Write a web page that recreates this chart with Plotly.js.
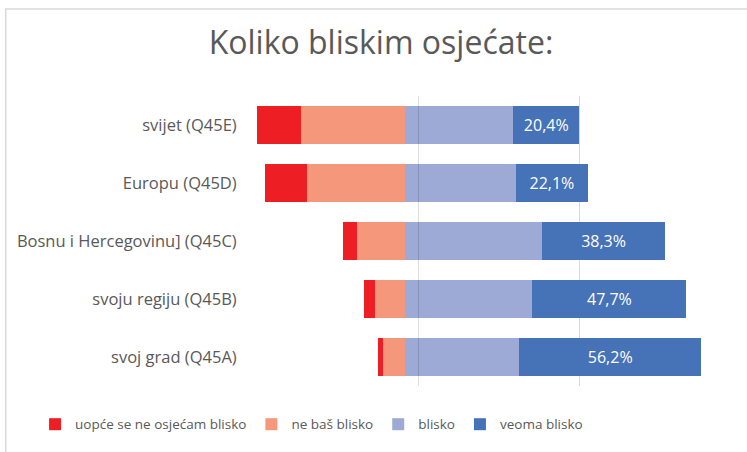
<!DOCTYPE html>
<html>
<head>
<meta charset="utf-8">
<script src="https://cdn.plot.ly/plotly-3.0.1.min.js"></script>
<style>html,body{margin:0;padding:0;background:#fff;}#chart{width:747px;height:452px;}</style>
</head>
<body>
<div id="chart"></div>
<script>
const categories = ['svijet (Q45E)', 'Europu (Q45D)', 'Bosnu i Hercegovinu] (Q45C)', 'svoju regiju (Q45B)', 'svoj grad (Q45A)'];
const seriesNames = ['uopće se ne osjećam blisko', 'ne baš blisko', 'blisko', 'veoma blisko'];
const uopce = [13.7, 12.9, 4.6, 3.7, 1.5];
const neBas = [32.2, 30.5, 14.8, 9.2, 6.9];
const blisko = [33.5, 34.4, 42.3, 39.4, 35.4];
const veoma = [20.4, 22.1, 38.3, 47.7, 56.2];

const negSum = uopce.map((v, i) => v + neBas[i]);
const maxNeg = Math.max(...negSum);
const offset = negSum.map(v => maxNeg - v);

const colors = ['#ED1F24', '#F5977A', '#9DAAD5', '#4672B8'];
const FONT = '"Open Sans", sans-serif';

const traces = [
  {type: 'bar', orientation: 'h', y: categories, x: offset, marker: {color: 'rgba(0,0,0,0)'},
   showlegend: false, hoverinfo: 'skip'},
  {type: 'bar', orientation: 'h', y: categories, x: uopce, name: seriesNames[0], marker: {color: colors[0]}, hoverinfo: 'skip'},
  {type: 'bar', orientation: 'h', y: categories, x: neBas, name: seriesNames[1], marker: {color: colors[1]}, hoverinfo: 'skip'},
  {type: 'bar', orientation: 'h', y: categories, x: blisko, name: seriesNames[2], marker: {color: colors[2]}, hoverinfo: 'skip'},
  {type: 'bar', orientation: 'h', y: categories, x: veoma, name: seriesNames[3], marker: {color: colors[3]}, hoverinfo: 'skip',
   texttemplate: '%{x:.1f}%', textposition: 'inside', insidetextanchor: 'middle', textangle: 0,
   insidetextfont: {color: '#FFFFFF', size: 16, family: FONT}, constraintext: 'none'}
];

const layout = {
  width: 747, height: 452,
  margin: {l: 257, r: 38, t: 96, b: 64},
  paper_bgcolor: '#FFFFFF', plot_bgcolor: '#FFFFFF',
  barmode: 'stack', bargap: 0.34,
  separators: ',.',
  font: {family: FONT, color: '#595959'},
  title: {text: 'Koliko bliskim osjećate:', font: {size: 32, color: '#595959', family: FONT},
          xref: 'container', x: 0.51, xanchor: 'center', yref: 'container', y: 0.905, yanchor: 'middle'},
  xaxis: {range: [0, 140], tickvals: [0, 100], showticklabels: false, showgrid: true, gridcolor: '#D9D9D9', gridwidth: 1,
          zeroline: false, showline: false, fixedrange: true},
  yaxis: {autorange: 'reversed', type: 'category', showgrid: false, zeroline: false, showline: false,
          ticks: 'outside', ticklen: 16, tickcolor: 'rgba(0,0,0,0)',
          tickfont: {size: 16.5, color: '#595959', family: FONT}, fixedrange: true},
  legend: {orientation: 'h', xref: 'paper', yref: 'paper', x: -0.491, y: -0.1325, xanchor: 'left', yanchor: 'middle',
           font: {size: 13.5, color: '#595959', family: FONT}, traceorder: 'normal', itemwidth: 30},
  shapes: [
    {type: 'line', xref: 'x', yref: 'paper', x0: 50, x1: 50, y0: 0, y1: 1, layer: 'above',
     line: {color: 'rgba(0,0,0,0.14)', width: 1}},
    {type: 'rect', xref: 'paper', yref: 'paper', x0: -0.556, x1: 2, y0: -1, y1: 1.2997, layer: 'below',
     line: {color: '#D9D9D9', width: 1.5}, fillcolor: 'rgba(0,0,0,0)'}
  ]
};

Plotly.newPlot('chart', traces, layout, {staticPlot: true, displayModeBar: false});
</script>
</body>
</html>
